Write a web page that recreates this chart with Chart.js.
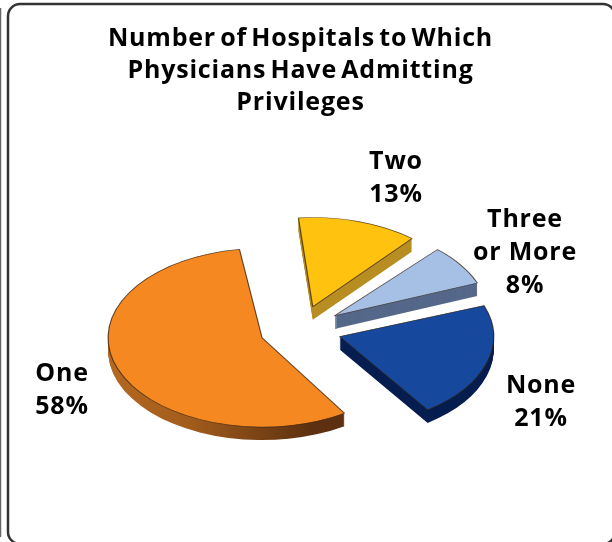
<!DOCTYPE html>
<html>
<head>
<meta charset="utf-8">
<style>html,body{margin:0;padding:0;background:#fff}canvas{display:block;filter:blur(0.45px)}</style>
<script src="https://cdn.jsdelivr.net/npm/chart.js@4/dist/chart.umd.min.js"></script>
</head>
<body>
<canvas id="c" width="612" height="542"></canvas>
<script>
const titleLines = ['Number of Hospitals to Which', 'Physicians Have Admitting', 'Privileges'];
const categories = ['Two', 'Three or More', 'None', 'One'];
const values = [13, 8, 21, 58];
const labelLines = [['Two'], ['Three', 'or More'], ['None'], ['One']];

const topColors = ['#FFC20E', '#A6BFE4', '#16499D', '#F58820'];
const sideColors = ['#B88E22', '#55688A', '#061D50', null];
const sliceOffset = 164;
const pieRadius = 154;
const labelCenters = [[396, 162], [525, 220], [541, 386], [62, 374]];
const squash = 0.58;
const depth = 13;
const labelLineStep = 33;

const pie3d = {
  id: 'pie3d',
  beforeDraw(chart) {
    const ctx = chart.ctx;
    ctx.save();
    ctx.fillStyle = '#fff';
    ctx.fillRect(0, 0, chart.width, chart.height);
    ctx.strokeStyle = '#333';
    ctx.lineWidth = 2.5;
    ctx.beginPath();
    ctx.roundRect(8, 4, 607, 540, 12);
    ctx.stroke();
    ctx.strokeStyle = '#666';
    ctx.lineWidth = 1.5;
    ctx.beginPath();
    ctx.moveTo(0.5, 8);
    ctx.lineTo(0.5, 537);
    ctx.stroke();
    ctx.restore();
    ctx.letterSpacing = '0.8px';
    ctx.wordSpacing = '-3px';
  },
  beforeDatasetDraw(chart, args) {
    const ctx = chart.ctx;
    ctx.letterSpacing = '0px';
    ctx.wordSpacing = '0px';
    const arcs = args.meta.data;
    const cx = arcs[0].x, cy = arcs[0].y;
    ctx.save();
    ctx.translate(cx, cy);
    ctx.scale(1, squash);
    ctx.translate(-cx, -cy);
    arcs.forEach((el, i) => {
      // the library grows exploded arcs by a circumference-dependent amount; undo it so every slice has one radius
      const growth = (sliceOffset / 4) * (1 - Math.sin(Math.min(Math.PI, el.circumference)));
      el.outerRadius = pieRadius - growth;
      let side = sideColors[i];
      if (!side) {
        side = ctx.createLinearGradient(cx - 195, 0, cx + 50, 0);
        side.addColorStop(0, '#BE6E24');
        side.addColorStop(0.5, '#A25C1C');
        side.addColorStop(1, '#5C3010');
      }
      const orig = el.options;
      el.options = Object.assign({}, orig, {backgroundColor: side, borderWidth: 0});
      for (let n = depth; n >= 1; n--) {
        ctx.save();
        ctx.translate(0, n / squash);
        el.draw(ctx);
        ctx.restore();
      }
      el.options = orig;
      el.draw(ctx);
    });
    ctx.restore();
    return false;
  },
  afterDraw(chart) {
    const ctx = chart.ctx;
    ctx.save();
    ctx.fillStyle = '#000';
    ctx.font = '700 25px "Open Sans"';
    ctx.textAlign = 'center';
    ctx.textBaseline = 'middle';
    ctx.letterSpacing = '0.8px';
    values.forEach((v, i) => {
      const lines = labelLines[i].concat([v + '%']);
      lines.forEach((t, j) => {
        ctx.fillText(t, labelCenters[i][0], labelCenters[i][1] + j * labelLineStep);
      });
    });
    ctx.restore();
  }
};

new Chart(document.getElementById('c'), {
  type: 'pie',
  data: {
    labels: categories,
    datasets: [{
      data: values,
      backgroundColor: topColors,
      borderColor: 'rgba(50,35,20,0.75)',
      borderWidth: 1.2,
      offset: sliceOffset,
      radius: pieRadius,
      rotation: -6
    }]
  },
  options: {
    responsive: false,
    animation: false,
    layout: {padding: {right: 11, bottom: 2}},
    plugins: {
      legend: {display: false},
      tooltip: {enabled: false},
      title: {
        display: true,
        text: titleLines,
        color: '#000',
        font: {family: '"Open Sans"', size: 25, weight: '700', lineHeight: 1.28},
        padding: {top: 23, bottom: 0}
      }
    }
  },
  plugins: [pie3d]
});
</script>
</body>
</html>
